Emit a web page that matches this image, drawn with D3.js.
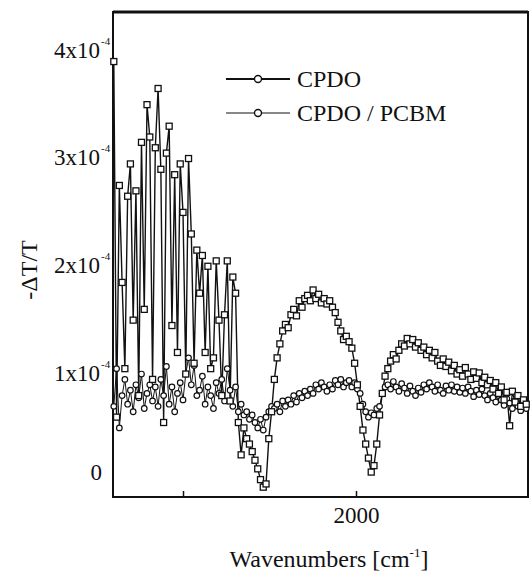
<!DOCTYPE html>
<html>
<head>
<meta charset="utf-8">
<script src="https://cdn.jsdelivr.net/npm/d3@7"></script>
<style>
  body { margin: 0; background: #fff; }
  text { font-family: "Liberation Serif", "Times New Roman", serif; fill: #111; }
</style>
</head>
<body>
<svg id="chart" width="530" height="574"></svg>
<script>
// wavenumbers in cm^-1, shared by both traces
var wavenumbers = [1300,1308,1316,1324,1332,1340,1348,1356,1364,1372,1380,1388,1396,1404,1412,1420,1428,1436,1444,1452,
  1460,1468,1476,1484,1492,1500,1508,1516,1524,1532,1540,1548,1556,1564,1572,1580,1588,1596,1604,1612,
  1620,1628,1636,1644,1652,1660,1668,1676,1684,1692,1700,1708,1716,1724,1732,1740,1748,1756,1764,1772,
  1780,1788,1796,1804,1812,1820,1828,1836,1844,1852,1860,1868,1876,1884,1892,1900,1908,1916,1924,1932,
  1940,1948,1956,1964,1972,1980,1988,1996,2004,2012,2020,2028,2036,2044,2052,2060,2068,2076,2084,2092,
  2100,2108,2116,2124,2132,2140,2148,2156,2164,2172,2180,2188,2196,2204,2212,2220,2228,2236,2244,2252,
  2260,2268,2276,2284,2292,2300,2308,2316,2324,2332,2340,2348,2356,2364,2372,2380,2388,2396,2404,2412,
  2420,2428,2436,2444,2452,2460,2468,2476,2484,2492];

// -dT/T in units of 1e-4
var cpdo = [3.80,0.50,2.65,1.75,0.95,2.55,2.85,1.40,2.60,0.70,
  3.05,1.50,3.40,3.10,0.85,3.00,3.55,2.80,0.45,2.95,
  3.20,1.35,2.75,1.10,2.85,2.40,0.90,2.90,2.20,1.00,
  2.05,1.65,2.00,1.10,1.90,0.95,1.05,1.95,1.40,0.70,
  1.45,1.95,0.65,1.80,1.65,0.45,0.15,0.40,0.30,0.25,
  0.18,0.10,0.02,-0.08,-0.15,-0.12,0.30,0.55,0.85,1.05,
  1.18,1.30,1.36,1.33,1.45,1.50,1.44,1.58,1.52,1.60,
  1.63,1.58,1.68,1.60,1.64,1.56,1.60,1.55,1.58,1.52,
  1.47,1.38,1.30,1.22,1.25,1.20,1.14,1.00,0.80,0.60,
  0.38,0.25,0.12,-0.01,0.05,0.25,0.52,0.72,0.88,0.95,
  1.02,1.08,1.04,1.12,1.18,1.16,1.23,1.18,1.22,1.15,
  1.19,1.12,1.15,1.08,1.12,1.05,1.10,1.02,0.98,1.04,
  0.97,1.01,0.93,0.98,0.90,0.94,0.88,0.96,0.90,0.85,
  0.92,0.86,0.91,0.82,0.87,0.80,0.84,0.76,0.82,0.72,
  0.78,0.66,0.73,0.42,0.74,0.64,0.70,0.60,0.66,0.62];

var cpdoPcbm = [0.60,0.95,0.40,0.70,0.85,0.62,0.75,0.55,0.80,0.68,
  0.90,0.58,0.72,0.80,0.65,0.78,0.60,0.85,0.70,0.97,
  0.62,0.78,0.55,0.72,0.82,0.66,0.90,1.05,0.80,0.98,
  0.70,0.75,0.88,0.62,0.78,0.70,0.58,0.82,0.72,0.85,
  0.65,0.95,0.75,0.60,0.78,0.55,0.62,0.52,0.55,0.48,
  0.52,0.45,0.40,0.48,0.38,0.50,0.55,0.60,0.58,0.62,
  0.55,0.65,0.60,0.66,0.62,0.70,0.64,0.72,0.68,0.74,
  0.70,0.76,0.72,0.80,0.76,0.82,0.78,0.74,0.80,0.76,
  0.84,0.80,0.85,0.78,0.82,0.84,0.78,0.82,0.76,0.72,
  0.62,0.55,0.50,0.54,0.52,0.58,0.60,0.72,0.78,0.80,
  0.76,0.83,0.78,0.74,0.81,0.77,0.72,0.79,0.74,0.70,
  0.77,0.73,0.80,0.76,0.82,0.78,0.74,0.80,0.75,0.72,
  0.79,0.75,0.80,0.74,0.78,0.73,0.77,0.72,0.78,0.74,
  0.69,0.75,0.71,0.76,0.70,0.66,0.72,0.68,0.64,0.70,
  0.66,0.61,0.67,0.63,0.58,0.65,0.60,0.56,0.62,0.58];

var xTicks = [1500, 2000];
var xTickLabels = ["", "2000"];
var yTicks = [0, 1, 2, 3, 4];
var yTickLabels = ["0", "1x10", "2x10", "3x10", "4x10"];
var yTickExp = ["", "-4", "-4", "-4", "-4"];
var seriesNames = ["CPDO", "CPDO / PCBM"];

var svg = d3.select("#chart");

// plot box (don't call it "top", that's window.top)
var boxL = 113, boxR = 528, boxT = 12, boxB = 497;

var x = d3.scaleLinear().domain([1500, 2000]).range([183, 356]);
var y = d3.scaleLinear().domain([0, 4]).range([471, 40]);

// x axis (ticks point inward)
var gx = svg.append("g")
  .attr("transform", "translate(0," + boxB + ")")
  .call(d3.axisBottom(x).tickValues(xTicks).tickSize(-6).tickPadding(10)
    .tickFormat(function (d, i) { return xTickLabels[i]; }));
gx.select(".domain").remove();
gx.selectAll("line").attr("stroke", "#111").attr("stroke-width", 1.5);
gx.selectAll("text").attr("font-size", 23).attr("font-family", null);

// y axis labels like "4x10^-4"
var gy = svg.append("g")
  .attr("transform", "translate(100,0)")
  .call(d3.axisLeft(y).tickValues(yTicks).tickSize(0).tickPadding(0)
    .tickFormat(function (d, i) { return yTickLabels[i]; }));
gy.select(".domain").remove();
gy.selectAll("text")
  .attr("font-size", 23).attr("font-family", null)
  .attr("dy", null)
  .attr("x", function (d) { return d === 0 ? 2 : 0; })
  .attr("y", function (d) { return d === 0 ? 8 : 17; });
gy.selectAll(".tick").each(function (d, i) {
  if (!yTickExp[i]) return;
  d3.select(this).append("text")
    .attr("x", 1).attr("y", 4)
    .attr("font-size", 11)
    .attr("text-anchor", "start")
    .text(yTickExp[i]);
});

// frame
svg.append("rect")
  .attr("x", boxL).attr("y", boxT)
  .attr("width", boxR - boxL).attr("height", boxB - boxT)
  .attr("fill", "none").attr("stroke", "#111").attr("stroke-width", 2);
svg.append("line")
  .attr("x1", boxL).attr("x2", boxR).attr("y1", boxT).attr("y2", boxT)
  .attr("stroke", "#111").attr("stroke-width", 3);

// axis titles
svg.append("text")
  .attr("transform", "translate(37,270) rotate(-90)")
  .attr("text-anchor", "middle")
  .attr("font-size", 24)
  .text("-\u0394T/T");

var xt = svg.append("text")
  .attr("x", 329).attr("y", 567)
  .attr("text-anchor", "middle")
  .attr("font-size", 24);
xt.append("tspan").text("Wavenumbers [cm");
xt.append("tspan").attr("font-size", 13).attr("dy", -10).text("-1");
xt.append("tspan").attr("dy", 10).text("]");

// traces
var line = d3.line()
  .x(function (d) { return x(d[0]); })
  .y(function (d) { return y(d[1]); });

var pcbmPts = wavenumbers.map(function (w, i) { return [w, cpdoPcbm[i]]; });
var cpdoPts = wavenumbers.map(function (w, i) { return [w, cpdo[i]]; });

svg.append("path").datum(pcbmPts)
  .attr("d", line).attr("fill", "none").attr("stroke", "#111").attr("stroke-width", 1);
svg.append("path").datum(cpdoPts)
  .attr("d", line).attr("fill", "none").attr("stroke", "#111").attr("stroke-width", 1.4);

svg.selectAll(".circ").data(pcbmPts).enter().append("circle")
  .attr("class", "circ")
  .attr("cx", function (d) { return x(d[0]); })
  .attr("cy", function (d) { return y(d[1]); })
  .attr("r", 2.8)
  .attr("fill", "#fff").attr("stroke", "#111").attr("stroke-width", 1.2);

var sq = 6;
svg.selectAll(".sq").data(cpdoPts).enter().append("rect")
  .attr("class", "sq")
  .attr("x", function (d) { return x(d[0]) - sq / 2; })
  .attr("y", function (d) { return y(d[1]) - sq / 2; })
  .attr("width", sq).attr("height", sq)
  .attr("fill", "#fff").attr("stroke", "#111").attr("stroke-width", 1.3);

// legend
var legend = svg.append("g");
seriesNames.forEach(function (name, i) {
  var ly = 79 + i * 34;
  legend.append("line")
    .attr("x1", 226).attr("x2", 290).attr("y1", ly).attr("y2", ly)
    .attr("stroke", "#111").attr("stroke-width", i === 0 ? 1.8 : 1);
  legend.append("circle")
    .attr("cx", 258).attr("cy", ly).attr("r", 3.5)
    .attr("fill", "#fff").attr("stroke", "#111").attr("stroke-width", 1.4);
  legend.append("text")
    .attr("x", 297).attr("y", ly + 8)
    .attr("font-size", 24)
    .text(name);
});
</script>
</body>
</html>
